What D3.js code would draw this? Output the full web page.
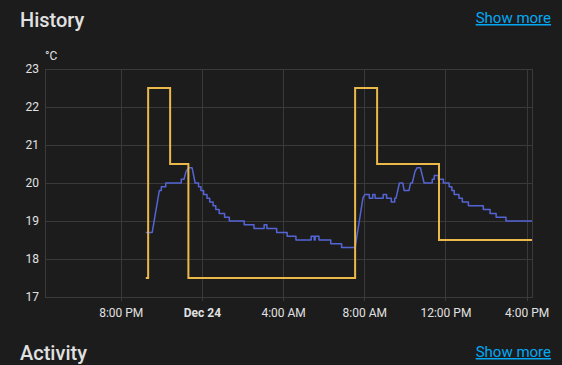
<!DOCTYPE html>
<html><head><meta charset="utf-8">
<script src="https://cdn.jsdelivr.net/npm/d3@7"></script>
<style>
html,body{margin:0;padding:0;background:#1c1c1c;}
svg{display:block;font-family:Roboto,"Noto Sans",sans-serif;}
</style></head><body>
<svg id="chart" width="562" height="365"></svg>
<script>
// ---- data ----
const startDay = "2023-12-23";
const xDomainTimes = ["16:16", "16:16"];           // Dec 23 16:16 -> Dec 24 16:16
const yTicks = [17, 18, 19, 20, 21, 22, 23];
const xTickTimes = ["20:00", "00:00", "04:00", "08:00", "12:00", "16:00"];
const xTickLabels = ["8:00 PM", "Dec 24", "4:00 AM", "8:00 AM", "12:00 PM", "4:00 PM"];
const unitLabel = "°C";

// target temperature (state changes, stepped)
const targetTimes  = ["21:14","21:21","22:26","23:20","07:33","08:38","11:41","16:16"];
const targetValues = [17.5, 22.5, 20.5, 17.5, 22.5, 20.5, 18.5, 18.5];

// current temperature (points joined linearly)
const currentTimes = [
 "21:14","21:33","21:54","22:00","22:00","22:13","22:13","22:59","22:59","23:07","23:13","23:20","23:31","23:40",
 "23:50","23:50","23:57","23:57","00:05","00:05","00:15","00:15","00:23","00:23","00:33","00:33","00:41","00:41",
 "00:51","00:51","01:07","01:07","01:21","01:21","02:05","02:05","02:34","02:34","03:04","03:04","03:12","03:12",
 "03:41","03:41","04:12","04:12","04:38","04:38","05:23","05:23","05:32","05:32","05:35","05:35","05:46","05:46",
 "06:21","06:21","06:53","06:53","07:33","07:56","08:02","08:15","08:15","08:25","08:25","08:32","08:32","08:56",
 "08:56","09:06","09:06","09:20","09:20","09:30","09:30","09:34","09:44","09:54","09:58","10:12","10:17","10:22",
 "10:30","10:36","10:46","10:57","11:21","11:21","11:27","11:27","11:39","11:39","11:54","11:54","12:11","12:11",
 "12:19","12:19","12:26","12:26","12:40","12:40","12:50","12:50","13:08","13:08","13:52","13:52","14:12","14:12",
 "14:30","14:30","14:59","14:59","16:16"];
const currentValues = [
 18.7,18.7,19.8,19.8,19.9,19.9,20.0,20.0,20.1,20.1,20.3,20.4,20.4,20.0,
 20.0,19.9,19.9,19.8,19.8,19.7,19.7,19.6,19.6,19.5,19.5,19.4,19.4,19.3,
 19.3,19.2,19.2,19.1,19.1,19.0,19.0,18.9,18.9,18.8,18.8,18.9,18.9,18.8,
 18.8,18.7,18.7,18.6,18.6,18.5,18.5,18.6,18.6,18.5,18.5,18.6,18.6,18.5,
 18.5,18.4,18.4,18.3,18.3,19.6,19.7,19.7,19.6,19.6,19.7,19.7,19.6,19.6,
 19.7,19.7,19.6,19.6,19.5,19.5,19.6,19.6,20.0,20.0,19.8,19.8,20.0,20.0,
 20.3,20.4,20.4,20.0,20.0,20.1,20.1,20.2,20.2,20.1,20.1,20.0,20.0,19.9,
 19.9,19.8,19.8,19.7,19.7,19.6,19.6,19.5,19.5,19.4,19.4,19.3,19.3,19.2,
 19.2,19.1,19.1,19.0,19.0];

// ---- helpers ----
// parse a chronological list of "HH:MM" strings, rolling over to the next day when time goes back
function parseSeq(times){
  const [Y,M,D] = startDay.split("-").map(Number);
  let day = D, prev = -1;
  return times.map(t => {
    const [h,m] = t.split(":").map(Number);
    const mins = h*60+m;
    if (mins < prev) day++;
    prev = mins;
    return new Date(Y, M-1, day, h, m);
  });
}

const svg = d3.select("#chart");
const W = 562, H = 365;
const margin = {left:45, right:30, top:69, bottom:68};
const x0 = margin.left, x1 = W - margin.right, y0 = H - margin.bottom, y1 = margin.top;

const xDom = parseSeq([xDomainTimes[0], "23:59", xDomainTimes[1]]);
const x = d3.scaleTime().domain([xDom[0], xDom[2]]).range([x0, x1]);
const y = d3.scaleLinear().domain([17, 23]).range([y0, y1]);

const textColor = "#e1e1e1";
const gridColor = "#3a3a3a";

// headers
svg.append("text").attr("x", 20).attr("y", 27).attr("fill", textColor)
  .attr("font-size", 20).attr("font-weight", 500).text("History");
svg.append("text").attr("x", 551).attr("y", 23).attr("fill", "#03a9f4")
  .attr("font-size", 15).attr("text-anchor", "end").attr("text-decoration", "underline").text("Show more");
svg.append("text").attr("x", 20).attr("y", 360).attr("fill", textColor)
  .attr("font-size", 20).attr("font-weight", 500).text("Activity");
svg.append("text").attr("x", 551).attr("y", 357).attr("fill", "#03a9f4")
  .attr("font-size", 15).attr("text-anchor", "end").attr("text-decoration", "underline").text("Show more");

// grid
const grid = svg.append("g").attr("shape-rendering", "crispEdges");
grid.selectAll("line.h").data(yTicks).join("line").attr("class","h")
  .attr("x1", x0).attr("x2", x1).attr("y1", d => Math.round(y(d))+0.5).attr("y2", d => Math.round(y(d))+0.5)
  .attr("stroke", gridColor);
const xTicks = parseSeq(xTickTimes);
const vLines = [x.domain()[0], ...xTicks, x.domain()[1]];
grid.selectAll("line.v").data(vLines).join("line").attr("class","v")
  .attr("x1", d => Math.round(x(d))+0.5).attr("x2", d => Math.round(x(d))+0.5)
  .attr("y1", y1).attr("y2", y0 + 1)
  .attr("stroke", gridColor);

// axes
const yAxis = svg.append("g").attr("transform", `translate(${x0},0)`)
  .call(d3.axisLeft(y).tickValues(yTicks).tickSize(0).tickPadding(6).tickFormat(d3.format("d")));
yAxis.select(".domain").remove();
yAxis.selectAll("text").attr("fill", textColor).attr("font-size", 12).attr("font-family", "Roboto");

const xAxis = svg.append("g").attr("transform", `translate(0,${y0})`)
  .call(d3.axisBottom(x).tickValues(xTicks).tickSize(4).tickPadding(7)
    .tickFormat((d,i) => xTickLabels[i]));
xAxis.select(".domain").remove();
xAxis.selectAll("line").attr("stroke", gridColor).attr("shape-rendering","crispEdges");
xAxis.selectAll("text").attr("fill", textColor).attr("font-size", 12).attr("font-family", "Roboto")
  .attr("font-weight", (d,i) => xTickLabels[i] === "Dec 24" ? 700 : 400);

svg.append("text").attr("x", x0).attr("y", 60).attr("fill", textColor)
  .attr("font-size", 12).text(unitLabel);

// series
const tT = parseSeq(targetTimes);
const targetData = tT.map((t,i) => [t, targetValues[i]]);
const cT = parseSeq(currentTimes);
const currentData = cT.map((t,i) => [t, currentValues[i]]);

svg.append("path").datum(currentData)
  .attr("fill","none").attr("stroke","#5464d4").attr("stroke-width",1.5).attr("stroke-linejoin","round")
  .attr("d", d3.line().x(d => x(d[0])).y(d => y(d[1])).curve(d3.curveLinear));

svg.append("path").datum(targetData)
  .attr("fill","none").attr("stroke","#ebb94a").attr("stroke-width",2)
  .attr("d", d3.line().x(d => x(d[0])).y(d => y(d[1])).curve(d3.curveStepAfter));
</script>
</body></html>
